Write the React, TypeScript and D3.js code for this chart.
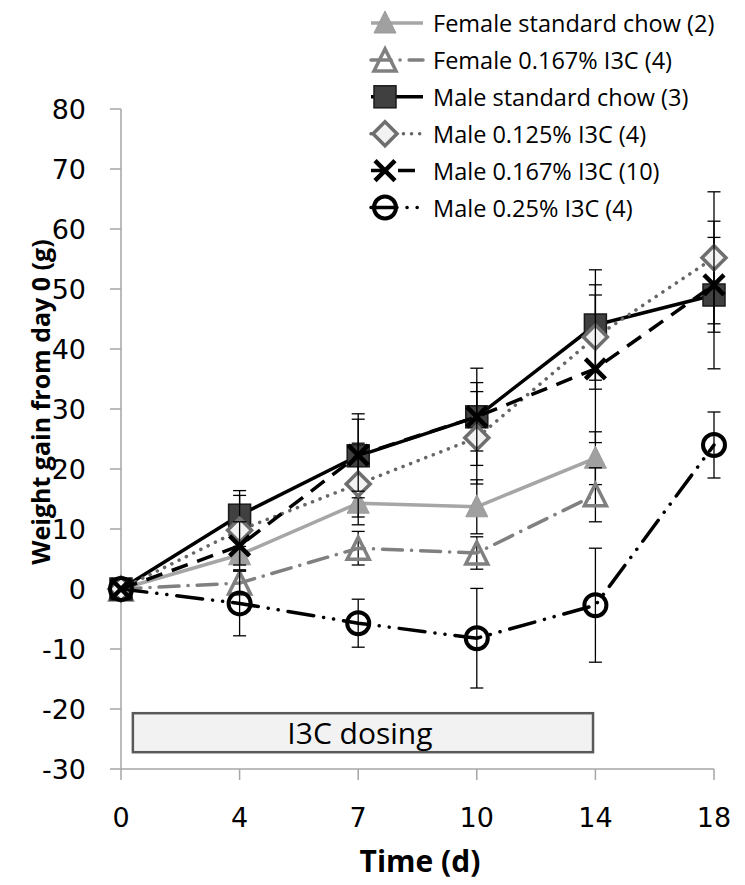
import React from "react";
import * as d3 from "d3";

const categories = ["0", "4", "7", "10", "14", "18"];

const seriesNames = [
  "Female standard chow (2)",
  "Female 0.167% I3C (4)",
  "Male standard chow (3)",
  "Male 0.125% I3C (4)",
  "Male 0.167% I3C (10)",
  "Male 0.25% I3C (4)",
];

const femaleStd = [0, 5.7, 14.3, 13.7, 21.8, null];
const femaleStdErr = [0, 1.4, 2.3, 4.5, 4.4, null];
const female167 = [0, 1.0, 6.8, 6.0, 15.7, null];
const female167Err = [0, 2.0, 2.8, 2.7, 4.5, null];
const maleStd = [0, 12.3, 22.2, 28.7, 44.0, 49.0];
const maleStdErr = [0, 4.1, 7.0, 8.1, 9.2, 12.3];
const male125 = [0, 9.8, 17.5, 25.2, 42.0, 55.2];
const male125Err = [0, 5.8, 6.8, 7.7, 8.7, 11.0];
const male167 = [0, 7.2, 22.3, 28.7, 36.7, 50.7];
const male167Err = [0, 4.0, 6.0, 5.7, 12.3, 7.9];
const male25 = [0, -2.4, -5.7, -8.2, -2.7, 24.0];
const male25Err = [0, 5.4, 4.0, 8.3, 9.5, 5.5];

const yTicks = [-30, -20, -10, 0, 10, 20, 30, 40, 50, 60, 70, 80];
const dosingLabel = "I3C dosing";
const dosingX = [0.1, 3.98]; // category-index span
const dosingY = [-20.7, -27.2];

type Style = {
  color: string;
  width: number;
  dash?: string;
  cap?: string;
  marker: "tri" | "otri" | "square" | "diamond" | "x" | "circle";
};

const styles: Style[] = [
  { color: "#a6a6a6", width: 3.5, marker: "tri" },
  { color: "#808080", width: 3.5, dash: "20 9 0.1 9", cap: "round", marker: "otri" },
  { color: "#000000", width: 3.5, marker: "square" },
  { color: "#666666", width: 3.5, dash: "0.1 8", cap: "round", marker: "diamond" },
  { color: "#000000", width: 3.5, dash: "17 10", marker: "x" },
  { color: "#000000", width: 3.5, dash: "26 10 0.1 10 0.1 10", cap: "round", marker: "circle" },
];

const values = [femaleStd, female167, maleStd, male125, male167, male25];
const errors = [femaleStdErr, female167Err, maleStdErr, male125Err, male167Err, male25Err];

function Marker({ kind, x, y }: { kind: Style["marker"]; x: number; y: number }) {
  switch (kind) {
    case "tri":
      return (
        <path
          d={`M${x},${y - 12}L${x + 11},${y + 10}L${x - 11},${y + 10}Z`}
          fill="#a0a0a0"
          stroke="#9a9a9a"
          strokeWidth={1}
        />
      );
    case "otri":
      return (
        <path
          d={`M${x},${y - 11}L${x + 11},${y + 11}L${x - 11},${y + 11}Z`}
          fill="none"
          stroke="#808080"
          strokeWidth={3.5}
          strokeLinejoin="miter"
        />
      );
    case "square":
      return <rect x={x - 11} y={y - 11} width={22} height={22} fill="#404040" stroke="#1a1a1a" strokeWidth={1.5} />;
    case "diamond":
      return (
        <path
          d={`M${x},${y - 12}L${x + 12},${y}L${x},${y + 12}L${x - 12},${y}Z`}
          fill="#f2f2f2"
          stroke="#6e6e6e"
          strokeWidth={3.5}
        />
      );
    case "x":
      return (
        <path
          d={`M${x - 10},${y - 10}L${x + 10},${y + 10}M${x + 10},${y - 10}L${x - 10},${y + 10}`}
          stroke="#000"
          strokeWidth={4.5}
        />
      );
    case "circle":
      return <circle cx={x} cy={y} r={11} fill="none" stroke="#000" strokeWidth={4} />;
  }
}

export default function App() {
  const W = 745;
  const H = 885;
  const x = d3.scalePoint<string>().domain(categories).range([121, 714]).padding(0);
  const y = d3.scaleLinear().domain([-30, 80]).range([769, 109]);
  const xi = d3.scaleLinear().domain([0, categories.length - 1]).range([121, 714]);

  const line = d3
    .line<{ c: string; v: number | null }>()
    .defined((d) => d.v !== null)
    .x((d) => x(d.c)!)
    .y((d) => y(d.v as number));

  const legendY0 = 23;
  const legendStep = 36.9;

  const boxX0 = xi(dosingX[0]);
  const boxX1 = xi(dosingX[1]);
  const boxY0 = y(dosingY[0]);
  const boxY1 = y(dosingY[1]);

  return (
    <svg width={W} height={H} style={{ position: "absolute", left: 0, top: 0, background: "#fff" }}>
      <rect x={0} y={0} width={W} height={H} fill="#fff" />
      {/* axes */}
      <line x1={121} x2={121} y1={y(80)} y2={y(-30)} stroke="#a6a6a6" strokeWidth={1.5} />
      {yTicks.map((t) => (
        <g key={t}>
          <line x1={110} x2={121} y1={y(t)} y2={y(t)} stroke="#a6a6a6" strokeWidth={1.5} />
          <text
            x={86}
            y={y(t)}
            textAnchor="end"
            dominantBaseline="central"
            fontFamily="DejaVu Sans"
            fontSize={27}
            fill="#000"
          >
            {t}
          </text>
        </g>
      ))}
      <line x1={121} x2={714} y1={y(-30)} y2={y(-30)} stroke="#a6a6a6" strokeWidth={1.5} />
      {categories.map((c) => (
        <g key={c}>
          <line x1={x(c)} x2={x(c)} y1={y(-30)} y2={y(-30) + 11} stroke="#a6a6a6" strokeWidth={1.5} />
          <text
            x={x(c)}
            y={817}
            textAnchor="middle"
            dominantBaseline="central"
            fontFamily="DejaVu Sans"
            fontSize={27}
            fill="#000"
          >
            {c}
          </text>
        </g>
      ))}
      <text
        x={420}
        y={860}
        textAnchor="middle"
        dominantBaseline="central"
        fontFamily="Open Sans"
        fontWeight="bold"
        fontSize={30}
      >
        Time (d)
      </text>
      <text
        transform={`translate(50,402) rotate(-90)`}
        textAnchor="middle"
        fontFamily="Open Sans"
        fontWeight="bold"
        fontSize={25}
      >
        Weight gain from day 0 (g)
      </text>

      {/* dosing box */}
      <rect
        x={boxX0}
        y={boxY0}
        width={boxX1 - boxX0}
        height={boxY1 - boxY0}
        fill="#f2f2f2"
        stroke="#595959"
        strokeWidth={2.5}
      />
      <text
        x={(boxX0 + boxX1) / 2 - 3}
        y={(boxY0 + boxY1) / 2}
        textAnchor="middle"
        dominantBaseline="central"
        fontFamily="Open Sans"
        fontSize={30}
      >
        {dosingLabel}
      </text>

      {/* series */}
      {values.map((vals, si) => {
        const st = styles[si];
        const pts = categories.map((c, i) => ({ c, v: vals[i] }));
        return (
          <g key={si}>
            {pts.map((p, i) => {
              const e = errors[si][i];
              if (p.v === null || e === null || e === 0) return null;
              const cx = x(p.c)!;
              const top = y((p.v as number) + e);
              const bot = y((p.v as number) - e);
              return (
                <g key={i} stroke="#000" strokeWidth={1.3}>
                  <line x1={cx} x2={cx} y1={top} y2={bot} />
                  <line x1={cx - 6.5} x2={cx + 6.5} y1={top} y2={top} />
                  <line x1={cx - 6.5} x2={cx + 6.5} y1={bot} y2={bot} />
                </g>
              );
            })}
            <path
              d={line(pts) || ""}
              fill="none"
              stroke={st.color}
              strokeWidth={st.width}
              strokeDasharray={st.dash}
              strokeLinecap={(st.cap as any) || "butt"}
              strokeLinejoin="round"
            />
            {pts.map((p, i) =>
              p.v === null ? null : <Marker key={i} kind={st.marker} x={x(p.c)!} y={y(p.v as number)} />
            )}
          </g>
        );
      })}

      {/* legend */}
      {seriesNames.map((name, i) => {
        const st = styles[i];
        const ly = legendY0 + i * legendStep;
        return (
          <g key={name}>
            <line
              x1={371}
              x2={423}
              y1={ly}
              y2={ly}
              stroke={st.color}
              strokeWidth={st.width}
              strokeDasharray={st.dash}
              strokeLinecap={(st.cap as any) || "butt"}
            />
            <Marker kind={st.marker} x={385} y={ly} />
            <text
              x={433}
              y={ly}
              dominantBaseline="central"
              fontFamily="Open Sans"
              fontSize={23.5}
              fill="#000"
            >
              {name}
            </text>
          </g>
        );
      })}
    </svg>
  );
}
